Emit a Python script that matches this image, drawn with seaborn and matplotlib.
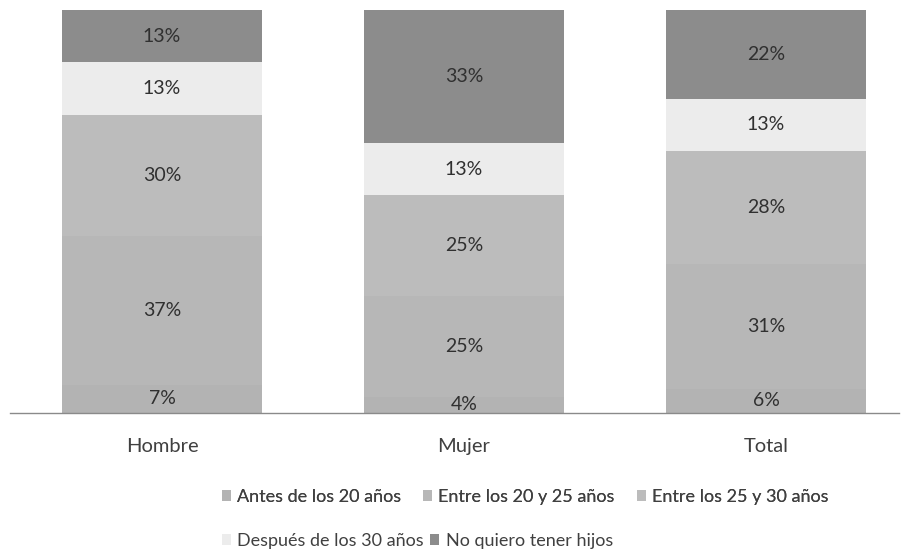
import matplotlib
matplotlib.use("Agg")
import matplotlib.pyplot as plt
import seaborn as sns
import numpy as np

sns.set_theme(style="white")
plt.rcParams["font.family"] = ["Lato", "DejaVu Sans"]

# Groups and stacked shares (%), bottom to top
groups = ["Hombre", "Mujer", "Total"]
series = [
    "Antes de los 20 años",
    "Entre los 20 y 25 años",
    "Entre los 25 y 30 años",
    "Después de los 30 años",
    "No quiero tener hijos",
]
antes_20 = [7, 4, 6]
entre_20_25 = [37, 25, 31]
entre_25_30 = [30, 25, 28]
despues_30 = [13, 13, 13]
no_hijos = [13, 33, 22]
values = [antes_20, entre_20_25, entre_25_30, despues_30, no_hijos]
colors = ["#b3b3b3", "#b7b7b7", "#bcbcbc", "#ececec", "#8c8c8c"]

fig = plt.figure(figsize=(9.1, 5.56), dpi=100)
ax = fig.add_axes([10 / 910, (556 - 413) / 556, 889 / 910, 403 / 556])

bottom = np.zeros(len(groups))
handles = []
for name, vals, col in zip(series, values, colors):
    sns.barplot(x=groups, y=vals, bottom=bottom, color=col, width=0.66,
                saturation=1, linewidth=0, ax=ax, label=name)
    cont = ax.containers[-1]
    handles.append(cont.patches[0])
    ax.bar_label(cont, labels=[f"{v}%" for v in vals], label_type="center",
                 fontsize=14, color="#303030")
    bottom = bottom + np.array(vals)

ax.set_ylim(0, 100)
ax.set_xlim(-0.503, 2.44)
ax.set_yticks([])
ax.set_ylabel("")
for s in ["top", "left", "right"]:
    ax.spines[s].set_visible(False)
ax.spines["bottom"].set_color("#8a8a8a")
ax.spines["bottom"].set_linewidth(1.0)
ax.tick_params(axis="x", length=0, pad=18, labelsize=14.5, labelcolor="#404040")
if ax.get_legend() is not None:
    ax.get_legend().remove()

leg_kw = dict(frameon=False, fontsize=13, handlelength=0.5, handleheight=0.5,
              handletextpad=0.35, borderaxespad=0,
              borderpad=0, labelcolor="#404040", loc="center left")
leg1 = fig.legend(handles[:3], series[:3], ncol=3, columnspacing=1.2,
                  bbox_to_anchor=(222 / 910, 1 - 497 / 556), **leg_kw)
fig.add_artist(leg1)
fig.legend(handles[3:], series[3:], ncol=2, columnspacing=0.35,
           bbox_to_anchor=(222 / 910, 1 - 541 / 556), **leg_kw)

fig.savefig("out.png", dpi=100)
